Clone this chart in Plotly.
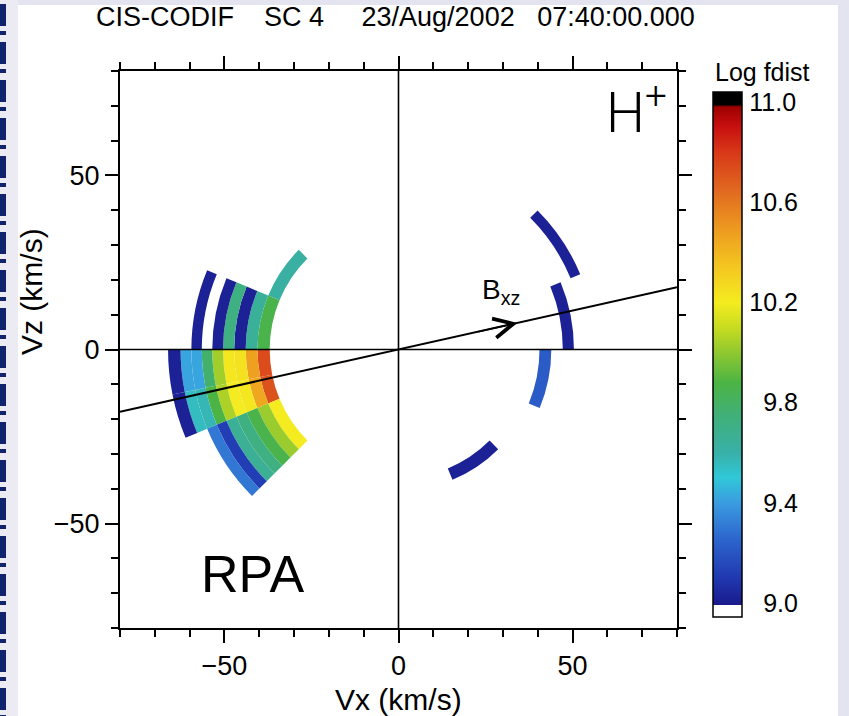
import math
import plotly.graph_objects as go

# ---------------- data ----------------
# radial (velocity) bin edges, km/s
radial_edges = [37.0, 40.5, 43.9, 47.2, 50.4, 53.5, 56.5, 59.5, 62.6, 66.2]

# distribution cells: start angle (deg, from +Vx, counter-clockwise), angular width (deg),
# radial bin index, Log fdist value
cell_theta_start = [135.0,
                    157.5, 157.5, 157.5, 157.5, 157.5, 157.5,
                    180.0, 180.0, 180.0, 180.0, 180.0, 180.0, 180.0, 180.0, 180.0,
                    191.25, 191.25, 191.25, 191.25, 191.25, 191.25, 191.25, 191.25, 191.25,
                    202.5, 202.5, 202.5, 202.5, 202.5, 202.5, 202.5,
                    22.5, 0.0, 337.5, 292.5]
cell_theta_width = [22.5,
                    22.5, 22.5, 22.5, 22.5, 22.5, 22.5,
                    11.25, 11.25, 11.25, 11.25, 11.25, 11.25, 11.25, 11.25, 11.25,
                    11.25, 11.25, 11.25, 11.25, 11.25, 11.25, 11.25, 11.25, 11.25,
                    22.5, 22.5, 22.5, 22.5, 22.5, 22.5, 22.5,
                    22.5, 22.5, 22.5, 22.5]
cell_bin = [0,
            0, 1, 2, 3, 4, 6,
            0, 1, 2, 3, 4, 5, 6, 7, 8,
            0, 1, 2, 3, 4, 5, 6, 7, 8,
            0, 1, 2, 3, 4, 5, 6,
            5, 3, 1, 0]
cell_logf = [9.62,
             9.86, 9.65, 9.02, 9.72, 9.02, 9.02,
             10.74, 10.47, 10.24, 10.22, 10.03, 9.78, 9.42, 9.42, 9.02,
             10.72, 10.45, 10.22, 10.20, 10.05, 9.88, 9.57, 9.55, 9.02,
             10.20, 10.02, 9.86, 9.72, 9.66, 9.12, 9.30,
             9.02, 9.02, 9.22, 9.02]

# magnetic field direction in the Vx-Vz plane (deg)
b_angle_deg = 12.6
b_arrow_at = 35.0   # km/s along B where the arrow head sits

# axes / colour bar
axis_range = [-80, 80]
axis_ticks_major = 50
axis_ticks_minor = 10
cbar_min, cbar_max = 8.944, 11.04
cbar_tickvals = [9.0, 9.4, 9.8, 10.2, 10.6, 11.0]
cbar_ticktext = ["\u00a0\u00a09.0", "\u00a0\u00a09.4", "\u00a0\u00a09.8", "10.2", "10.6", "11.0"]

NB = "\u00a0"
title_text = ("CIS-CODIF" + NB * 4 + "SC 4" + NB * 5 + "23/Aug/2002" + NB * 3 + "07:40:00.000")

# ---------------- geometry of the figure ----------------
W, H = 849, 716
L, R, T, B = 120, 172, 71, 88
PW = W - L - R   # 557
PH = H - T - B   # 557


def px_x(px):
    return (px - L) / PW


def px_y(py):
    return (H - B - py) / PH


# colour scale (value -> colour), normalised to cbar range
scale_stops = [
    (8.944, "#ffffff"), (8.99, "#ffffff"), (8.991, "#1a1a8c"), (9.10, "#2038b0"),
    (9.25, "#2c64cc"), (9.40, "#3a9ce0"), (9.50, "#30c8d8"), (9.60, "#38b0a8"),
    (9.75, "#40b078"), (9.88, "#4cb444"), (10.0, "#90c830"), (10.1, "#c8dc20"),
    (10.2, "#f4ec20"), (10.35, "#f4c420"), (10.5, "#ec9820"), (10.65, "#e06820"),
    (10.8, "#d83818"), (10.9, "#c81010"), (10.98, "#a00000"), (10.99, "#000000"),
    (11.04, "#000000"),
]
colorscale = [[(v - cbar_min) / (cbar_max - cbar_min), c] for v, c in scale_stops]
colorscale[-1][0] = 1.0

inner = [radial_edges[b] for b in cell_bin]
thick = [radial_edges[b + 1] - radial_edges[b] for b in cell_bin]
theta_c = [s + w / 2 for s, w in zip(cell_theta_start, cell_theta_width)]

FONT = "Liberation Sans, Arial, sans-serif"

fig = go.Figure()

fig.add_trace(go.Barpolar(
    r=thick, base=inner, theta=theta_c, width=cell_theta_width,
    marker=dict(
        color=cell_logf, colorscale=colorscale, cmin=cbar_min, cmax=cbar_max,
        line=dict(width=0),
        showscale=True,
        colorbar=dict(
            x=px_x(713), xanchor="left", xpad=0,
            y=px_y(354.5), yanchor="middle", ypad=0,
            len=525, lenmode="pixels", thickness=29,
            outlinecolor="black", outlinewidth=1.5,
            tickmode="array", tickvals=cbar_tickvals, ticktext=cbar_ticktext,
            ticks="outside", ticklen=2, tickcolor="rgba(0,0,0,0)",
            tickfont=dict(family=FONT, size=25, color="black"),
        ),
    ),
    hoverinfo="skip",
))

# dummy cartesian trace to establish the cartesian subplot
fig.add_trace(go.Scatter(x=[None], y=[None], mode="markers", showlegend=False, hoverinfo="skip"))

axis_common = dict(
    range=axis_range, showgrid=False, zeroline=False, automargin=False,
    showline=True, linecolor="black", linewidth=2, mirror="ticks",
    tickmode="linear", tick0=0, dtick=axis_ticks_major,
    ticks="outside", ticklen=13, tickwidth=2, tickcolor="black",
    minor=dict(tickmode="linear", tick0=0, dtick=axis_ticks_minor, ticks="outside",
               ticklen=7, tickwidth=1.5, tickcolor="black"),
    tickfont=dict(family=FONT, size=27, color="black"),
    fixedrange=True,
)
fig.update_layout(
    xaxis=dict(axis_common, domain=[0, 1]),
    yaxis=dict(axis_common, domain=[0, 1]),
    polar=dict(
        domain=dict(x=[0, 1], y=[0, 1]),
        bgcolor="rgba(0,0,0,0)",
        radialaxis=dict(range=[0, axis_range[1]], visible=False),
        angularaxis=dict(visible=False),
    ),
)

# axis titles
fig.add_annotation(x=0, xref="x", y=px_y(699), yref="paper", text="Vx (km/s)",
                   showarrow=False, yanchor="middle",
                   font=dict(family=FONT, size=30, color="black"))
fig.add_annotation(x=px_x(31), xref="paper", y=px_y(292), yref="paper", text="Vz (km/s)",
                   showarrow=False, textangle=-90, xanchor="center", yanchor="middle",
                   font=dict(family=FONT, size=30, color="black"))

# reference lines (zero axes and B direction), drawn above the distribution
t = math.tan(math.radians(b_angle_deg))
fig.add_shape(type="line", xref="x", yref="y", x0=axis_range[0], x1=axis_range[1], y0=0, y1=0,
              line=dict(color="black", width=1.6), layer="above")
fig.add_shape(type="line", xref="x", yref="y", x0=0, x1=0, y0=axis_range[0], y1=axis_range[1],
              line=dict(color="black", width=1.6), layer="above")
fig.add_shape(type="line", xref="x", yref="y", x0=axis_range[0], y0=axis_range[0] * t,
              x1=axis_range[1], y1=axis_range[1] * t,
              line=dict(color="black", width=2), layer="above")

ca, sa = math.cos(math.radians(b_angle_deg)), math.sin(math.radians(b_angle_deg))
fig.add_annotation(x=b_arrow_at * ca, y=b_arrow_at * sa, xref="x", yref="y",
                   ax=(b_arrow_at - 12) * ca, ay=(b_arrow_at - 12) * sa, axref="x", ayref="y",
                   text="", showarrow=True, arrowhead=5, arrowsize=2.4, arrowwidth=1.6,
                   arrowcolor="black")
fig.add_annotation(x=29.5, y=16.8, xref="x", yref="y", text="B<sub>xz</sub>", showarrow=False,
                   font=dict(family=FONT, size=28, color="black"))
fig.add_annotation(x=59.0, y=69.0, xref="x", yref="y", text="H<sup>+</sup>", showarrow=False,
                   xanchor="left", yanchor="middle",
                   font=dict(family="Roboto, Liberation Sans, sans-serif", size=55, color="black",
                             weight=300))
fig.add_annotation(x=-41.8, y=-64.5, xref="x", yref="y", text="RPA", showarrow=False,
                   font=dict(family=FONT, size=52, color="black"))
fig.add_annotation(x=px_x(713), y=px_y(72), xref="paper", yref="paper", text="Log fdist",
                   showarrow=False, xanchor="left", yanchor="middle",
                   font=dict(family=FONT, size=25, color="black"))

# slide background decoration
fig.add_shape(type="rect", xref="paper", yref="paper", x0=px_x(18), x1=px_x(838),
              y0=px_y(H + 5), y1=px_y(5), fillcolor="white", line=dict(width=0), layer="below")
fig.add_shape(type="rect", xref="paper", yref="paper", x0=px_x(0), x1=px_x(18),
              y0=px_y(H + 5), y1=px_y(0), fillcolor="#eceaf2", line=dict(width=0), layer="below")
y = 4
while y < H:
    fig.add_shape(type="rect", xref="paper", yref="paper", x0=px_x(0), x1=px_x(6),
                  y0=px_y(y + 22), y1=px_y(y), fillcolor="#10246e", line=dict(width=0), layer="below")
    fig.add_shape(type="rect", xref="paper", yref="paper", x0=px_x(0), x1=px_x(6),
                  y0=px_y(y + 31), y1=px_y(y + 27), fillcolor="#10246e", line=dict(width=0),
                  layer="below")
    y += 38

fig.update_layout(
    width=W, height=H,
    margin=dict(l=L, r=R, t=T, b=B, autoexpand=False),
    paper_bgcolor="#e4e4f0",
    plot_bgcolor="white",
    showlegend=False,
    title=dict(text=title_text, x=96 / W, xanchor="left", xref="container",
               y=1 - 17 / H, yanchor="middle", yref="container",
               font=dict(family=FONT, size=27, color="black")),
)

fig.write_html("out.html", config={"displayModeBar": False},
               post_script="document.body.style.margin='0';document.body.style.overflow='hidden';")
